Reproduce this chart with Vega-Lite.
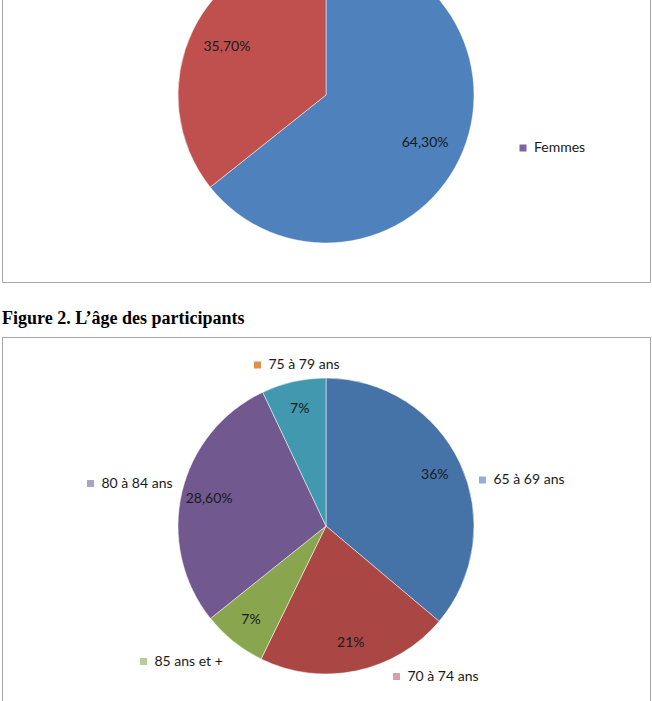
{
  "$schema": "https://vega.github.io/schema/vega-lite/v6.json",
  "padding": {"top": -93, "left": 1, "right": 3, "bottom": 0},
  "background": "white",
  "spacing": 26,
  "config": {
    "view": {"stroke": "#a6a6a6", "strokeWidth": 1},
    "font": "Lato",
    "legend": {
      "orient": "none",
      "title": null,
      "symbolType": "square",
      "symbolSize": 49,
      "symbolStrokeWidth": 0,
      "symbolOpacity": 1,
      "labelFont": "Lato",
      "labelFontSize": 14,
      "labelColor": "#1a1a1a",
      "labelOffset": 4,
      "padding": 0
    }
  },
  "vconcat": [
    {
      "width": 648,
      "height": 374,
      "view": {"stroke": "#a6a6a6", "strokeWidth": 1, "fill": "white"},
      "data": {"values": [
        {"sexe": "Femmes", "value": 64.3, "label": "64,30%", "idx": 1},
        {"sexe": "Hommes", "value": 35.7, "label": "35,70%", "idx": 2}
      ]},
      "layer": [
        {
          "mark": {"type": "arc", "outerRadius": 148, "stroke": "white", "strokeWidth": 0.5},
          "encoding": {
            "theta": {"field": "value", "type": "quantitative", "stack": true},
            "order": {"field": "idx", "type": "quantitative"},
            "color": {"field": "sexe", "type": "nominal", "scale": {"domain": ["Femmes", "Hommes"], "range": ["#4F81BD", "#C0504D"]}, "legend": null}
          }
        },
        {
          "mark": {"type": "text", "radius": 110, "font": "Lato", "fontSize": 14, "color": "#1a1a1a"},
          "encoding": {
            "theta": {"field": "value", "type": "quantitative", "stack": true},
            "order": {"field": "idx", "type": "quantitative"},
            "detail": {"field": "sexe", "type": "nominal"},
            "text": {"field": "label", "type": "nominal"}
          }
        },
        {
          "transform": [{"filter": "datum.sexe === 'Femmes'"}],
          "mark": {"type": "square", "opacity": 0},
          "encoding": {
            "color": {"field": "sexe", "type": "nominal", "scale": {"domain": ["Femmes"], "range": ["#8064A2"]}, "legend": {"legendX": 514, "legendY": 233}}
          }
        }
      ],
      "resolve": {"scale": {"color": "independent"}}
    },
    {
      "width": 648,
      "height": 378,
      "view": {"stroke": "#a6a6a6", "strokeWidth": 1, "fill": "white"},
      "title": {"text": "Figure 2. L’âge des participants", "anchor": "start", "frame": "group", "font": "Liberation Serif", "fontSize": 18, "fontWeight": "bold", "color": "black", "offset": -5, "baseline": "alphabetic"},
      "data": {"values": [
        {"age": "65 à 69 ans", "value": 36, "label": "36%", "idx": 1},
        {"age": "70 à 74 ans", "value": 21, "label": "21%", "idx": 2},
        {"age": "85 ans et +", "value": 7, "label": "7%", "idx": 3},
        {"age": "80 à 84 ans", "value": 28.6, "label": "28,60%", "idx": 4},
        {"age": "75 à 79 ans", "value": 7, "label": "7%", "idx": 5}
      ]},
      "layer": [
        {
          "mark": {"type": "arc", "outerRadius": 148, "stroke": "white", "strokeWidth": 0.5},
          "encoding": {
            "theta": {"field": "value", "type": "quantitative", "stack": true},
            "order": {"field": "idx", "type": "quantitative"},
            "color": {"field": "age", "type": "nominal", "scale": {"domain": ["65 à 69 ans", "70 à 74 ans", "85 ans et +", "80 à 84 ans", "75 à 79 ans"], "range": ["#4572A7", "#AA4643", "#89A54E", "#71588F", "#4198AF"]}, "legend": null}
          }
        },
        {
          "mark": {"type": "text", "radius": 120, "font": "Lato", "fontSize": 14, "color": "#1a1a1a"},
          "encoding": {
            "theta": {"field": "value", "type": "quantitative", "stack": true},
            "order": {"field": "idx", "type": "quantitative"},
            "detail": {"field": "age", "type": "nominal"},
            "text": {"field": "label", "type": "nominal"}
          }
        },
        {
          "transform": [{"filter": "datum.age === '75 à 79 ans'"}],
          "mark": {"type": "square", "opacity": 0},
          "encoding": {"color": {"field": "age", "type": "nominal", "scale": {"domain": ["75 à 79 ans"], "range": ["#E0904A"]}, "legend": {"legendX": 248.5, "legendY": 21}}}
        },
        {
          "transform": [{"filter": "datum.age === '65 à 69 ans'"}],
          "mark": {"type": "square", "opacity": 0},
          "encoding": {"color": {"field": "age", "type": "nominal", "scale": {"domain": ["65 à 69 ans"], "range": ["#9AACD2"]}, "legend": {"legendX": 473.5, "legendY": 136}}}
        },
        {
          "transform": [{"filter": "datum.age === '80 à 84 ans'"}],
          "mark": {"type": "square", "opacity": 0},
          "encoding": {"color": {"field": "age", "type": "nominal", "scale": {"domain": ["80 à 84 ans"], "range": ["#ABA3C2"]}, "legend": {"legendX": 81.5, "legendY": 139.5}}}
        },
        {
          "transform": [{"filter": "datum.age === '85 ans et +'"}],
          "mark": {"type": "square", "opacity": 0},
          "encoding": {"color": {"field": "age", "type": "nominal", "scale": {"domain": ["85 ans et +"], "range": ["#B8CC98"]}, "legend": {"legendX": 134.5, "legendY": 317.5}}}
        },
        {
          "transform": [{"filter": "datum.age === '70 à 74 ans'"}],
          "mark": {"type": "square", "opacity": 0},
          "encoding": {"color": {"field": "age", "type": "nominal", "scale": {"domain": ["70 à 74 ans"], "range": ["#D6A0A4"]}, "legend": {"legendX": 387.5, "legendY": 332.5}}}
        }
      ],
      "resolve": {"scale": {"color": "independent"}}
    }
  ]
}
